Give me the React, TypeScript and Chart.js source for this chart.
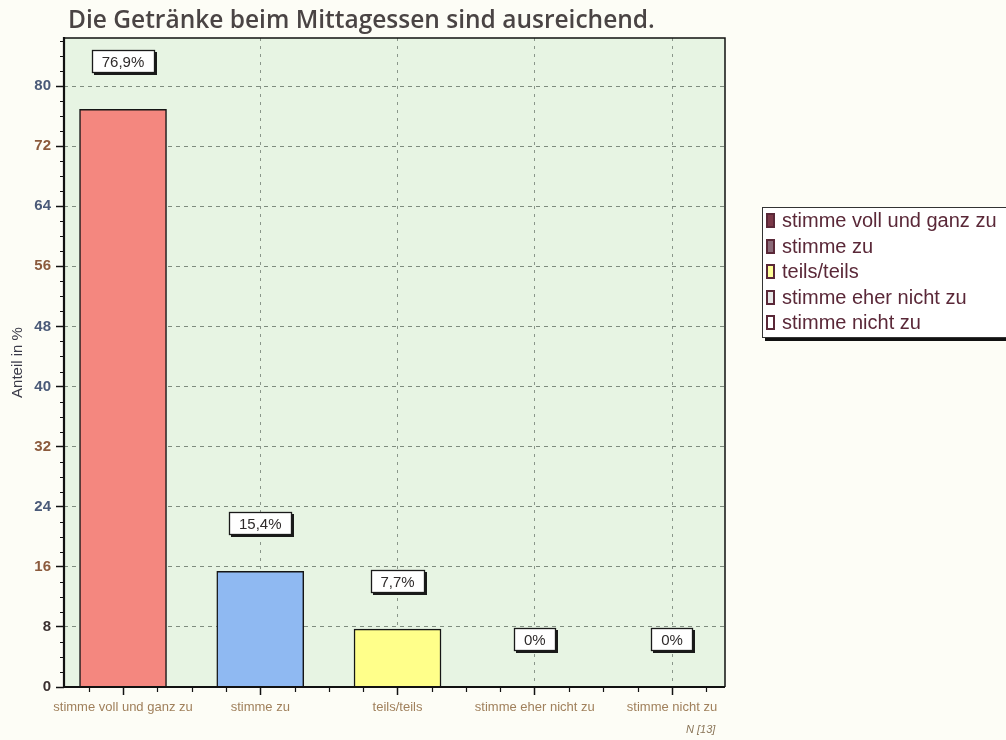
import React, { useEffect, useRef } from "react";
import { Chart, registerables } from "chart.js";
Chart.register(...registerables);

const titleText = "Die Getränke beim Mittagessen sind ausreichend.";
const yAxisTitle = "Anteil in %";
const footnote = "N [13]";
const categories = ["stimme voll und ganz zu", "stimme zu", "teils/teils", "stimme eher nicht zu", "stimme nicht zu"];
const values = [76.9, 15.4, 7.7, 0, 0];
const valueLabels = ["76,9%", "15,4%", "7,7%", "0%", "0%"];
const barColors = ["#f4877f", "#8fb9f2", "#ffff8a", "#d0d0d0", "#ffffff"];
const legendMarkerColors = ["#7a3848", "#8a6a78", "#ffff99", "#e8e8e8", "#ffffff"];
const yTicks = [0, 8, 16, 24, 32, 40, 48, 56, 64, 72, 80];
const yTickColors = ["#3a3030", "#3a3030", "#8b5a3c", "#4a5a78", "#8b5a3c", "#4a5a78", "#4a5a78", "#8b5a3c", "#4a5a78", "#8b5a3c", "#4a5a78"];
const yMax = 86.4;
const xMin = -0.43;
const xMax = 4.386;

const framePlugin = {
  id: "frame",
  beforeDraw(chart: any) {
    const { ctx, chartArea: a } = chart;
    ctx.save();
    ctx.fillStyle = "#e7f4e3";
    ctx.fillRect(a.left, a.top, a.right - a.left, a.bottom - a.top);
    ctx.restore();
  },
  afterDatasetsDraw(chart: any) {
    const { ctx, chartArea: a } = chart;
    const xs = chart.scales.x;
    const ys = chart.scales.y;
    ctx.save();
    ctx.strokeStyle = "#111";
    ctx.lineWidth = 1.5;
    ctx.beginPath();
    ctx.moveTo(a.left, a.top);
    ctx.lineTo(a.right, a.top);
    ctx.lineTo(a.right, a.bottom);
    ctx.stroke();
    ctx.lineWidth = 2.2;
    ctx.beginPath();
    ctx.moveTo(a.left, a.top - 1);
    ctx.lineTo(a.left, a.bottom);
    ctx.lineTo(a.right, a.bottom);
    ctx.stroke();
    ctx.lineWidth = 1.2;
    ctx.beginPath();
    for (let v = 2; v < yMax; v += 2) {
      if (v % 8 === 0) continue;
      const y = Math.round(ys.getPixelForValue(v)) + 0.5;
      ctx.moveTo(a.left - 4, y);
      ctx.lineTo(a.left, y);
    }
    for (let k = -1; k <= 17; k++) {
      const v = k * 0.25;
      if (k % 4 === 0) continue;
      if (v < xMin || v > xMax) continue;
      const x = Math.round(xs.getPixelForValue(v)) + 0.5;
      ctx.moveTo(x, a.bottom);
      ctx.lineTo(x, a.bottom + 5);
    }
    ctx.stroke();
    const meta = chart.getDatasetMeta(0);
    ctx.font = '15px "Liberation Sans", Arial, sans-serif';
    ctx.textAlign = "center";
    ctx.textBaseline = "middle";
    meta.data.forEach((bar: any, i: number) => {
      const text = valueLabels[i];
      const w = Math.round(ctx.measureText(text).width + 20);
      const h = 23;
      const x = Math.round(bar.x - w / 2);
      const y = Math.round(bar.y - 36 - h);
      ctx.fillStyle = "#1a1a1a";
      ctx.fillRect(x + 2, y + 2, w, h);
      ctx.fillStyle = "#ffffff";
      ctx.fillRect(x, y, w, h);
      ctx.strokeStyle = "#1a1a1a";
      ctx.lineWidth = 1.3;
      ctx.strokeRect(x + 0.5, y + 0.5, w - 1, h - 1);
      ctx.fillStyle = "#2e2a2a";
      ctx.fillText(text, bar.x, y + h / 2 + 1);
    });
    ctx.restore();
  },
};

export default function App() {
  const ref = useRef<HTMLCanvasElement | null>(null);
  useEffect(() => {
    if (!ref.current) return;
    const chart = new Chart(ref.current, {
      type: "bar",
      data: {
        datasets: [
          {
            data: values.map((v, i) => ({ x: i, y: v })),
            backgroundColor: barColors,
            borderColor: "#151515",
            borderWidth: values.map((v) => (v > 0 ? 1.5 : 0)),
            barThickness: 87,
          },
        ],
      },
      options: {
        responsive: false,
        animation: false,
        layout: { padding: { left: 0, right: 281, top: 38, bottom: 0 } },
        plugins: { legend: { display: false }, title: { display: false }, tooltip: { enabled: false } },
        scales: {
          x: {
            type: "linear",
            min: xMin,
            max: xMax,
            offset: false,
            afterFit(scale: any) {
              scale.height = 53;
            },
            afterBuildTicks(scale: any) {
              scale.ticks = categories.map((_, i) => ({ value: i }));
            },
            grid: {
              display: true,
              offset: false,
              drawOnChartArea: true,
              color: (c: any) => (c.index === 0 ? "rgba(0,0,0,0)" : "#8a968a"),
              lineWidth: 1,
              drawTicks: true,
              tickLength: 8,
              tickColor: "#111",
              tickWidth: 1.5,
            },
            border: { display: false, dash: [3, 5] },
            ticks: {
              autoSkip: false,
              maxRotation: 0,
              padding: 5,
              color: "#a0805c",
              font: { family: '"Liberation Sans", Arial, sans-serif', size: 13 },
              callback: (_v: any, idx: number) => categories[idx],
            },
          },
          y: {
            min: 0,
            max: yMax,
            afterFit(scale: any) {
              scale.width = 64;
            },
            afterBuildTicks(scale: any) {
              scale.ticks = yTicks.map((v) => ({ value: v }));
            },
            grid: {
              display: true,
              drawOnChartArea: true,
              color: "#7f8c7f",
              lineWidth: 1,
              drawTicks: true,
              tickLength: 8,
              tickColor: "#111",
              tickWidth: 1.5,
            },
            border: { display: false, dash: [4, 4] },
            ticks: {
              padding: 5,
              color: (c: any) => yTickColors[c.index] || "#3a3030",
              font: { family: '"Liberation Sans", Arial, sans-serif', size: 15, weight: "bold" },
            },
            title: {
              display: true,
              text: yAxisTitle,
              color: "#3a3a48",
              font: { family: '"Liberation Sans", Arial, sans-serif', size: 15 },
              padding: { top: 9, bottom: 0 },
            },
          },
        },
      },
      plugins: [framePlugin],
    });
    return () => chart.destroy();
  }, []);

  return (
    <div
      style={{
        position: "absolute",
        left: 0,
        top: 0,
        width: 1006,
        height: 740,
        background: "#fdfdf6",
        overflow: "hidden",
      }}
    >
      <canvas ref={ref} width={1006} height={740} style={{ position: "absolute", left: 0, top: 0, width: 1006, height: 740 }} />
      <div
        style={{
          position: "absolute",
          left: 68,
          top: 2,
          fontFamily: '"Open Sans", sans-serif',
          fontWeight: 600,
          fontSize: 24.5,
          color: "#4a4444",
          whiteSpace: "nowrap",
        }}
      >
        {titleText}
      </div>
      <div
        style={{
          position: "absolute",
          left: 762,
          top: 207,
          width: 260,
          height: 129,
          background: "#ffffff",
          border: "1px solid #333",
          boxShadow: "3px 3px 0 #111",
        }}
      >
        {categories.map((c, i) => (
          <div
            key={c}
            style={{
              height: 25.5,
              display: "flex",
              alignItems: "center",
              fontFamily: '"Liberation Sans", Arial, sans-serif',
              fontSize: 20,
              color: "#5a2838",
              whiteSpace: "nowrap",
            }}
          >
            <span
              style={{
                display: "inline-block",
                width: 5,
                height: 11,
                marginLeft: 3,
                marginRight: 7,
                border: "2px solid #5a2838",
                background: legendMarkerColors[i],
              }}
            />
            {c}
          </div>
        ))}
      </div>
      <div
        style={{
          position: "absolute",
          left: 686,
          top: 723,
          fontFamily: '"Liberation Sans", Arial, sans-serif',
          fontStyle: "italic",
          fontSize: 11,
          color: "#8a7558",
        }}
      >
        {footnote}
      </div>
    </div>
  );
}
